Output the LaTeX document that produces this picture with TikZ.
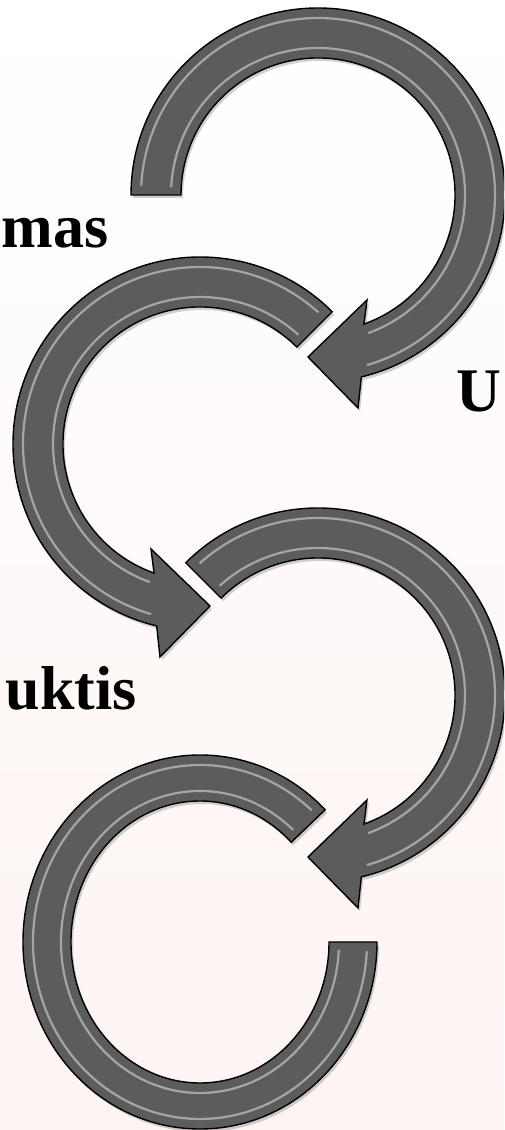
\documentclass[tikz,border=0pt]{standalone}
\usepackage{fontspec}
\setmainfont{Liberation Serif}
\usepackage{tikz}
\usetikzlibrary{calc,shadows}
\definecolor{bgpink}{RGB}{253,244,242}
\definecolor{ringgrey}{RGB}{92,92,92}
\tikzset{
    arrowbody/.style={
        draw=black,
        line width=0.7pt,
        fill=ringgrey,
        line join=miter,
        drop shadow={shadow xshift=1pt, shadow yshift=-1.5pt, opacity=0.18, fill=black}
    },
    gloss/.style={
        draw=white,
        line width=1.1pt,
        opacity=0.45
    },
    word/.style={
        font=\bfseries\fontsize{31}{31}\selectfont,
        inner sep=0pt
    }
}
% clockwise ring arrow: #1 centre, #2 tail angle
\newcommand{\cwarrow}[2]{%
    \draw[arrowbody] ($(#1)+(#2:187)$) arc[start angle=#2, end angle=-76.6, radius=187]
        -- ($(#1)+(40,-213)$) -- ($(#1)+(-10,-162)$) -- ($(#1)+(49,-105)$)
        -- ($(#1)+(-70.4:137)$) arc[start angle=-70.4, end angle=#2, radius=137] -- cycle;
    \draw[gloss] ($(#1)+({#2-3}:177)$) arc[start angle={#2-3}, end angle=-74, radius=177];
    \draw[gloss] ($(#1)+({#2-3}:147)$) arc[start angle={#2-3}, end angle=-70, radius=147];
}
% counter-clockwise ring arrow: #1 centre, #2 tail angle
\newcommand{\ccwarrow}[2]{%
    \draw[arrowbody] ($(#1)+(#2:187)$) arc[start angle=#2, end angle=256.6, radius=187]
        -- ($(#1)+(-40,-213)$) -- ($(#1)+(10,-162)$) -- ($(#1)+(-49,-105)$)
        -- ($(#1)+(250.4:137)$) arc[start angle=250.4, end angle=#2, radius=137] -- cycle;
    \draw[gloss] ($(#1)+({#2+3}:177)$) arc[start angle={#2+3}, end angle=254, radius=177];
    \draw[gloss] ($(#1)+({#2+3}:147)$) arc[start angle={#2+3}, end angle=250, radius=147];
}

\begin{document}
\begin{tikzpicture}[x=0.5pt, y=0.5pt]
    \useasboundingbox (0,0) rectangle (504,1130);
    \clip (0,0) rectangle (504,1130);
    \shade[top color=white, middle color=white!70!bgpink, bottom color=bgpink] (0,0) rectangle (504,1130);

    \coordinate (c1) at (318,935);
    \coordinate (c2) at (200,686);
    \coordinate (c3) at (318,435);
    \coordinate (c4) at (200,188);

    \cwarrow{c1}{180}
    \ccwarrow{c2}{45}
    \cwarrow{c3}{135}

    % last ring, no head
    \draw[arrowbody] ($(c4)+(45:177 and 187)$)
        arc[start angle=45, end angle=360, x radius=177, y radius=187]
        -- ($(c4)+(0:129 and 141)$)
        arc[start angle=360, end angle=45, x radius=129, y radius=141] -- cycle;
    \draw[gloss] ($(c4)+(48:167 and 177)$) arc[start angle=48, end angle=357, x radius=167, y radius=177];
    \draw[gloss] ($(c4)+(48:139 and 151)$) arc[start angle=48, end angle=357, x radius=139, y radius=151];

    \node[word, anchor=base west] (mas) at (1,882) {mas};
    \node[word, anchor=base east] (u) at (502,718) {U};
    \node[word, anchor=base east] (uktis) at (137,420) {uktis};
\end{tikzpicture}
\end{document}
